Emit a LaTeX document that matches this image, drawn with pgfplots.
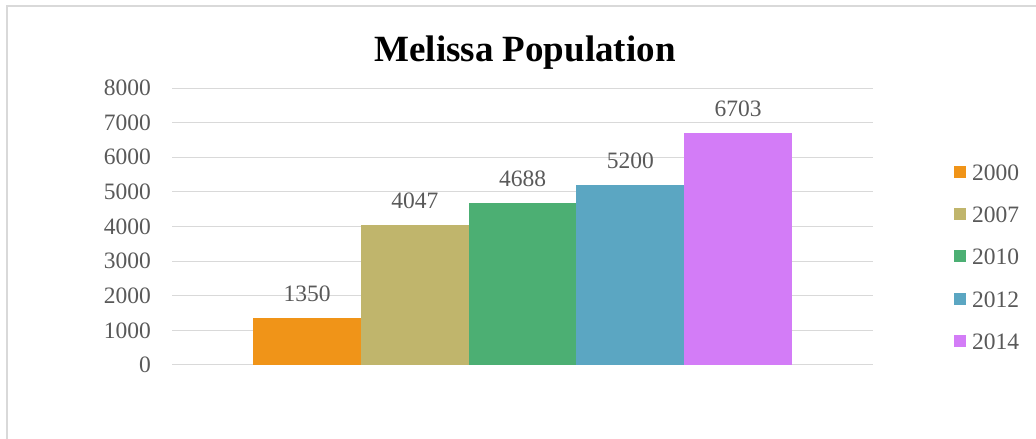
\documentclass[border=0pt]{standalone}
\usepackage{pgfplots}
\pgfplotsset{compat=1.18}
\usepackage{fontspec}
\setmainfont{Liberation Serif}
\definecolor{c1}{RGB}{240,148,24}
\definecolor{c2}{RGB}{192,181,108}
\definecolor{c3}{RGB}{76,175,115}
\definecolor{c4}{RGB}{91,166,194}
\definecolor{c5}{RGB}{211,124,247}
\definecolor{gridc}{RGB}{217,217,217}
\definecolor{txt}{RGB}{89,89,89}
\newcommand{\sq}[1]{\raisebox{2.5pt}{\textcolor{#1}{\rule{12pt}{12pt}}}\hspace{6pt}}
\begin{document}
\begin{tikzpicture}[x=1pt,y=1pt]
\path[use as bounding box] (0,0) rectangle (1036,439);
\draw[gridc, line width=2pt] (6.5,0) -- (6.5,432.5) -- (1036,432.5);
\node[anchor=base, font=\fontsize{37}{42}\selectfont\bfseries] at (525,377) {Melissa Population};
\begin{axis}[
  at={(172pt,74pt)}, anchor=south west,
  scale only axis, width=701pt, height=277pt,
  ymin=0, ymax=8000, xmin=-3.253, xmax=3.253,
  ytick={0,1000,...,8000}, xtick=\empty,
  ymajorgrids, grid style={gridc, line width=1pt},
  axis line style={draw=none},
  major tick length=0pt,
  /pgf/number format/.cd, 1000 sep={}, assume math mode=true, /pgfplots/.cd,
  yticklabel style={font=\fontsize{23.5}{28}\selectfont, color=txt, inner sep=0pt, xshift=-21pt},
  ybar, bar width=107.75pt, bar shift=0pt,
  nodes near coords,
  every node near coord/.append style={font=\fontsize{23.5}{28}\selectfont, color=txt, inner sep=0pt, anchor=south, yshift=16pt},
  legend style={draw=none, fill=none, inner sep=0pt, anchor=west, at={(rel axis cs:1.1155,0.392)},
    font=\fontsize{23.5}{28}\selectfont, text=txt,
    nodes={inner sep=0pt, text height=17pt, text depth=0pt, anchor=base west},
    row sep=25.25pt, column sep=0pt},
  legend image code/.code={},
]
\addplot[fill=c1, draw=none] coordinates {(-2,1350)};
\addlegendentry{\sq{c1}2000}
\addplot[fill=c2, draw=none] coordinates {(-1,4047)};
\addlegendentry{\sq{c2}2007}
\addplot[fill=c3, draw=none] coordinates {(0,4688)};
\addlegendentry{\sq{c3}2010}
\addplot[fill=c4, draw=none] coordinates {(1,5200)};
\addlegendentry{\sq{c4}2012}
\addplot[fill=c5, draw=none] coordinates {(2,6703)};
\addlegendentry{\sq{c5}2014}
\end{axis}
\end{tikzpicture}
\end{document}
